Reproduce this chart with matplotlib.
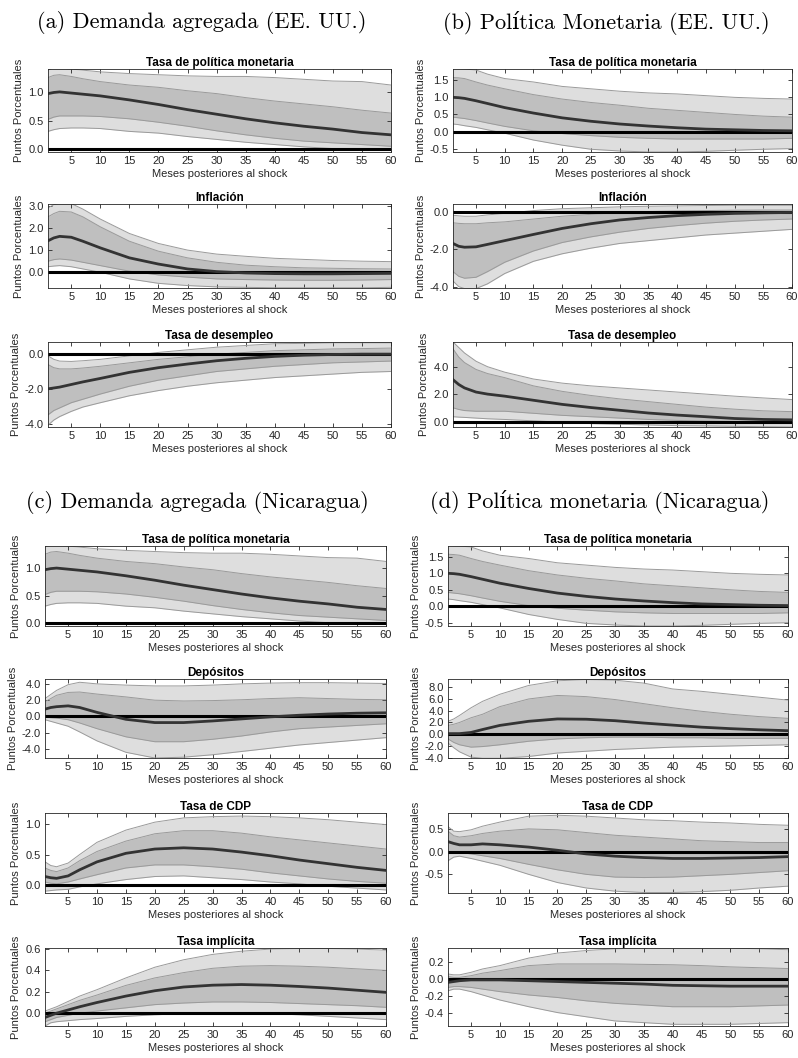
import numpy as np
import matplotlib
matplotlib.use("Agg")
import matplotlib.pyplot as plt

plt.rcParams['font.family'] = ['Liberation Sans', 'DejaVu Sans']
plt.rcParams['axes.unicode_minus'] = False

meses = [1, 2, 3, 5, 7, 10, 15, 20, 25, 30, 35, 40, 45, 50, 55, 60]

# cada respuesta: mediana, banda interna (baja, alta), banda externa (baja, alta)
tpm_da_med = [0.97, 0.99, 1.0, 0.98, 0.96, 0.93, 0.86, 0.78, 0.69, 0.61, 0.53, 0.46, 0.40, 0.35, 0.29, 0.25]
tpm_da_in_lo = [0.52, 0.56, 0.58, 0.58, 0.58, 0.57, 0.53, 0.47, 0.40, 0.32, 0.25, 0.19, 0.14, 0.11, 0.08, 0.05]
tpm_da_in_hi = [1.25, 1.29, 1.30, 1.27, 1.23, 1.18, 1.12, 1.08, 1.02, 0.97, 0.90, 0.84, 0.79, 0.74, 0.68, 0.63]
tpm_da_out_lo = [0.31, 0.34, 0.36, 0.37, 0.37, 0.36, 0.31, 0.28, 0.22, 0.17, 0.12, 0.08, 0.04, 0.01, 0.0, -0.02]
tpm_da_out_hi = [1.38, 1.42, 1.42, 1.40, 1.38, 1.35, 1.32, 1.30, 1.28, 1.27, 1.27, 1.25, 1.22, 1.19, 1.18, 1.12]

tpm_pm_med = [1.0, 0.99, 0.97, 0.90, 0.82, 0.70, 0.54, 0.40, 0.30, 0.22, 0.16, 0.11, 0.07, 0.05, 0.03, 0.02]
tpm_pm_in_lo = [0.42, 0.40, 0.38, 0.32, 0.25, 0.15, 0.02, -0.06, -0.12, -0.17, -0.20, -0.22, -0.22, -0.22, -0.22, -0.20]
tpm_pm_in_hi = [1.58, 1.57, 1.55, 1.45, 1.36, 1.25, 1.08, 0.95, 0.85, 0.77, 0.68, 0.62, 0.56, 0.50, 0.45, 0.42]
tpm_pm_out_lo = [0.22, 0.20, 0.17, 0.12, 0.05, -0.05, -0.25, -0.40, -0.52, -0.57, -0.60, -0.60, -0.58, -0.55, -0.52, -0.50]
tpm_pm_out_hi = [1.85, 1.84, 1.83, 1.80, 1.68, 1.55, 1.45, 1.32, 1.25, 1.18, 1.13, 1.10, 1.05, 1.00, 0.97, 0.95]

inf_da_med = [1.42, 1.55, 1.62, 1.58, 1.40, 1.10, 0.65, 0.37, 0.15, 0.03, -0.03, -0.06, -0.07, -0.07, -0.06, -0.05]
inf_da_in_lo = [0.50, 0.57, 0.60, 0.55, 0.45, 0.30, 0.05, -0.12, -0.22, -0.30, -0.33, -0.35, -0.36, -0.36, -0.35, -0.33]
inf_da_in_hi = [2.50, 2.65, 2.75, 2.72, 2.50, 2.05, 1.40, 0.95, 0.65, 0.45, 0.32, 0.25, 0.20, 0.18, 0.16, 0.15]
inf_da_out_lo = [0.25, 0.28, 0.30, 0.25, 0.15, 0.0, -0.30, -0.50, -0.60, -0.66, -0.68, -0.70, -0.70, -0.70, -0.70, -0.68]
inf_da_out_hi = [2.90, 3.05, 3.10, 3.10, 2.85, 2.40, 1.75, 1.30, 1.00, 0.82, 0.72, 0.63, 0.58, 0.53, 0.50, 0.48]

des_da_med = [-2.0, -1.95, -1.9, -1.75, -1.6, -1.4, -1.05, -0.78, -0.57, -0.38, -0.24, -0.13, -0.06, -0.02, 0.0, 0.0]
des_da_in_lo = [-3.5, -3.25, -3.1, -2.8, -2.6, -2.3, -1.85, -1.5, -1.25, -1.0, -0.85, -0.7, -0.6, -0.5, -0.45, -0.4]
des_da_in_hi = [-0.6, -0.78, -0.85, -0.85, -0.8, -0.7, -0.5, -0.3, -0.15, 0.0, 0.1, 0.2, 0.25, 0.3, 0.32, 0.35]
des_da_out_lo = [-4.1, -3.8, -3.6, -3.3, -3.05, -2.8, -2.4, -2.1, -1.85, -1.65, -1.5, -1.35, -1.25, -1.15, -1.05, -1.0]
des_da_out_hi = [-0.1, -0.3, -0.4, -0.42, -0.38, -0.3, -0.1, 0.1, 0.25, 0.4, 0.5, 0.6, 0.62, 0.65, 0.65, 0.65]

inf_pm_med = [-1.7, -1.85, -1.9, -1.88, -1.75, -1.55, -1.22, -0.9, -0.65, -0.45, -0.32, -0.22, -0.15, -0.1, -0.07, -0.05]
inf_pm_in_lo = [-3.2, -3.45, -3.55, -3.5, -3.2, -2.7, -2.1, -1.65, -1.35, -1.1, -0.9, -0.75, -0.62, -0.52, -0.45, -0.4]
inf_pm_in_hi = [-0.6, -0.63, -0.65, -0.65, -0.6, -0.55, -0.4, -0.25, -0.15, -0.07, 0.0, 0.03, 0.05, 0.07, 0.08, 0.08]
inf_pm_out_lo = [-3.7, -4.0, -4.1, -4.1, -3.85, -3.3, -2.65, -2.25, -1.95, -1.7, -1.55, -1.4, -1.25, -1.15, -1.05, -0.95]
inf_pm_out_hi = [-0.2, -0.23, -0.25, -0.25, -0.18, -0.1, 0.05, 0.15, 0.2, 0.25, 0.28, 0.3, 0.32, 0.33, 0.33, 0.33]

des_pm_med = [3.05, 2.7, 2.45, 2.15, 2.0, 1.85, 1.55, 1.25, 1.02, 0.82, 0.62, 0.47, 0.35, 0.22, 0.15, 0.12]
des_pm_in_lo = [1.0, 0.88, 0.8, 0.75, 0.75, 0.75, 0.6, 0.45, 0.35, 0.25, 0.15, 0.08, 0.03, 0.0, -0.05, -0.1]
des_pm_in_hi = [5.3, 4.7, 4.3, 3.8, 3.5, 3.2, 2.6, 2.2, 1.9, 1.65, 1.45, 1.25, 1.05, 0.9, 0.78, 0.72]
des_pm_out_lo = [0.35, 0.32, 0.3, 0.25, 0.2, 0.15, 0.05, -0.05, -0.15, -0.2, -0.25, -0.3, -0.32, -0.35, -0.38, -0.4]
des_pm_out_hi = [5.8, 5.4, 5.0, 4.4, 4.0, 3.6, 3.1, 2.8, 2.6, 2.45, 2.3, 2.15, 2.0, 1.85, 1.72, 1.6]

dep_da_med = [0.9, 1.1, 1.2, 1.3, 1.1, 0.5, -0.35, -0.75, -0.75, -0.55, -0.3, -0.05, 0.15, 0.3, 0.4, 0.45]
dep_da_in_lo = [-0.1, -0.15, -0.2, -0.4, -0.8, -1.5, -2.5, -3.1, -3.1, -2.8, -2.4, -1.9, -1.5, -1.3, -1.1, -0.9]
dep_da_in_hi = [1.8, 2.2, 2.6, 2.95, 3.0, 2.75, 2.4, 2.0, 1.9, 1.95, 2.05, 2.2, 2.3, 2.2, 2.1, 2.05]
dep_da_out_lo = [-0.4, -0.6, -0.8, -1.2, -1.9, -3.0, -4.4, -5.1, -5.0, -4.7, -4.3, -3.9, -3.5, -3.2, -2.9, -2.6]
dep_da_out_hi = [2.2, 2.7, 3.2, 3.9, 4.2, 4.0, 3.85, 3.75, 3.75, 3.85, 4.0, 4.1, 4.15, 4.15, 4.1, 4.05]

dep_pm_med = [0.1, 0.1, 0.1, 0.3, 0.8, 1.5, 2.2, 2.6, 2.55, 2.3, 1.9, 1.55, 1.2, 0.95, 0.75, 0.6]
dep_pm_in_lo = [-0.8, -1.4, -1.8, -2.2, -2.1, -1.8, -1.2, -0.8, -0.6, -0.5, -0.5, -0.6, -0.6, -0.7, -0.7, -0.7]
dep_pm_in_hi = [1.5, 1.7, 2.0, 2.8, 3.4, 4.7, 6.0, 6.6, 6.4, 5.9, 5.2, 4.5, 3.9, 3.4, 3.0, 2.7]
dep_pm_out_lo = [-1.5, -2.3, -3.0, -3.9, -4.1, -4.1, -3.8, -3.2, -2.9, -2.6, -2.4, -2.2, -2.1, -2.0, -1.9, -1.8]
dep_pm_out_hi = [2.2, 2.6, 3.2, 4.5, 5.6, 6.8, 8.3, 9.1, 9.3, 9.2, 8.7, 7.7, 7.3, 6.8, 6.3, 5.8]

cdp_da_med = [0.14, 0.12, 0.11, 0.15, 0.25, 0.38, 0.52, 0.59, 0.61, 0.59, 0.54, 0.48, 0.41, 0.35, 0.29, 0.24]
cdp_da_in_lo = [0.05, 0.03, 0.02, 0.05, 0.10, 0.17, 0.28, 0.33, 0.33, 0.30, 0.26, 0.20, 0.15, 0.10, 0.06, 0.03]
cdp_da_in_hi = [0.28, 0.24, 0.22, 0.28, 0.40, 0.55, 0.72, 0.84, 0.89, 0.89, 0.85, 0.79, 0.74, 0.69, 0.64, 0.59]
cdp_da_out_lo = [-0.10, -0.09, -0.08, -0.07, -0.03, 0.02, 0.09, 0.14, 0.15, 0.12, 0.09, 0.05, 0.02, -0.02, -0.05, -0.08]
cdp_da_out_hi = [0.38, 0.32, 0.30, 0.36, 0.50, 0.70, 0.90, 1.03, 1.10, 1.12, 1.13, 1.12, 1.10, 1.07, 1.03, 0.99]

cdp_pm_med = [0.22, 0.18, 0.15, 0.15, 0.17, 0.15, 0.10, 0.03, -0.05, -0.10, -0.13, -0.15, -0.15, -0.14, -0.13, -0.11]
cdp_pm_in_lo = [0.0, -0.01, -0.02, -0.05, -0.09, -0.15, -0.28, -0.40, -0.50, -0.56, -0.57, -0.56, -0.53, -0.50, -0.46, -0.42]
cdp_pm_in_hi = [0.45, 0.35, 0.32, 0.35, 0.40, 0.45, 0.50, 0.48, 0.42, 0.36, 0.32, 0.28, 0.24, 0.22, 0.20, 0.20]
cdp_pm_out_lo = [-0.20, -0.12, -0.10, -0.15, -0.21, -0.30, -0.50, -0.68, -0.80, -0.87, -0.90, -0.90, -0.88, -0.85, -0.80, -0.76]
cdp_pm_out_hi = [0.55, 0.45, 0.44, 0.48, 0.56, 0.65, 0.78, 0.80, 0.78, 0.74, 0.70, 0.68, 0.65, 0.63, 0.60, 0.58]

imp_da_med = [-0.04, -0.02, 0.0, 0.03, 0.06, 0.10, 0.16, 0.21, 0.245, 0.262, 0.268, 0.262, 0.25, 0.235, 0.215, 0.195]
imp_da_in_lo = [-0.08, -0.06, -0.04, -0.02, 0.0, 0.02, 0.05, 0.08, 0.095, 0.105, 0.105, 0.10, 0.09, 0.08, 0.07, 0.055]
imp_da_in_hi = [0.0, 0.02, 0.04, 0.08, 0.12, 0.17, 0.26, 0.33, 0.38, 0.42, 0.44, 0.445, 0.44, 0.43, 0.415, 0.40]
imp_da_out_lo = [-0.12, -0.09, -0.08, -0.07, -0.06, -0.05, -0.03, -0.015, -0.005, 0.0, 0.0, -0.005, -0.015, -0.03, -0.045, -0.06]
imp_da_out_hi = [0.02, 0.04, 0.06, 0.11, 0.16, 0.22, 0.33, 0.43, 0.50, 0.55, 0.58, 0.60, 0.605, 0.605, 0.60, 0.59]

imp_pm_med = [-0.04, -0.03, -0.02, -0.01, -0.01, -0.01, -0.02, -0.03, -0.04, -0.05, -0.06, -0.075, -0.08, -0.085, -0.085, -0.085]
imp_pm_in_lo = [-0.10, -0.09, -0.09, -0.10, -0.12, -0.15, -0.19, -0.22, -0.26, -0.29, -0.31, -0.33, -0.33, -0.33, -0.32, -0.31]
imp_pm_in_hi = [0.03, 0.02, 0.02, 0.04, 0.07, 0.10, 0.16, 0.18, 0.18, 0.18, 0.175, 0.17, 0.16, 0.145, 0.135, 0.125]
imp_pm_out_lo = [-0.14, -0.12, -0.12, -0.15, -0.19, -0.25, -0.33, -0.40, -0.45, -0.50, -0.52, -0.54, -0.54, -0.54, -0.53, -0.52]
imp_pm_out_hi = [0.06, 0.05, 0.05, 0.08, 0.12, 0.16, 0.25, 0.31, 0.34, 0.36, 0.37, 0.37, 0.37, 0.37, 0.36, 0.35]

W, H = 798, 1058
fig = plt.figure(figsize=(W / 100, H / 100), dpi=100)


def panel(box, title, med, in_lo, in_hi, out_lo, out_hi, ylim, yticks):
    left, top, right, bottom = box
    ax = fig.add_axes([left / W, 1 - bottom / H, (right - left) / W, (bottom - top) / H])
    ax.fill_between(meses, out_lo, out_hi, color='#dedede', lw=0)
    ax.fill_between(meses, in_lo, in_hi, color='#bfbfbf', lw=0)
    for b in (out_lo, out_hi, in_lo, in_hi):
        ax.plot(meses, b, color='#9a9a9a', lw=0.7)
    ax.axhline(0, color='black', lw=2.2)
    ax.plot(meses, med, color='#333333', lw=2.0)
    ax.set_xlim(1, 60)
    ax.set_ylim(*ylim)
    ax.set_xticks(range(5, 61, 5))
    ax.set_yticks(yticks)
    ax.set_yticklabels(['%.1f' % v for v in yticks])
    ax.tick_params(direction='in', top=True, right=True, length=3, width=0.6,
                   labelsize=8, colors='#262626', pad=3)
    for s in ax.spines.values():
        s.set_linewidth(0.6)
        s.set_color('#262626')
    ax.set_title(title, fontsize=8.5, fontweight='bold', pad=2.5)
    ax.set_xlabel('Meses posteriores al shock', fontsize=8, color='#262626', labelpad=2)
    ax.set_ylabel('Puntos Porcentuales', fontsize=8, color='#262626', labelpad=3)
    return ax


# columnas (izquierda, derecha) y filas (arriba, abajo) en pixeles
col_ab = [(48, 391), (453, 792)]
col_cd = [(45, 386), (448, 788)]
rows_ab = [(69, 152), (204, 288), (342, 427)]
rows_cd = [(546, 626), (679, 758), (813, 893), (948, 1026)]

tit_tpm = 'Tasa de política monetaria'

(l, r), (t, b) = col_ab[0], rows_ab[0]
panel((l, t, r, b), tit_tpm, tpm_da_med, tpm_da_in_lo, tpm_da_in_hi, tpm_da_out_lo, tpm_da_out_hi,
      (-0.05, 1.40), [0.0, 0.5, 1.0])
(t, b) = rows_ab[1]
panel((l, t, r, b), 'Inflación', inf_da_med, inf_da_in_lo, inf_da_in_hi, inf_da_out_lo, inf_da_out_hi,
      (-0.71, 3.08), [0.0, 1.0, 2.0, 3.0])
(t, b) = rows_ab[2]
panel((l, t, r, b), 'Tasa de desempleo', des_da_med, des_da_in_lo, des_da_in_hi, des_da_out_lo, des_da_out_hi,
      (-4.2, 0.7), [-4.0, -2.0, 0.0])

(l, r), (t, b) = col_ab[1], rows_ab[0]
panel((l, t, r, b), tit_tpm, tpm_pm_med, tpm_pm_in_lo, tpm_pm_in_hi, tpm_pm_out_lo, tpm_pm_out_hi,
      (-0.6, 1.83), [-0.5, 0.0, 0.5, 1.0, 1.5])
(t, b) = rows_ab[1]
panel((l, t, r, b), 'Inflación', inf_pm_med, inf_pm_in_lo, inf_pm_in_hi, inf_pm_out_lo, inf_pm_out_hi,
      (-4.07, 0.4), [-4.0, -2.0, 0.0])
(t, b) = rows_ab[2]
panel((l, t, r, b), 'Tasa de desempleo', des_pm_med, des_pm_in_lo, des_pm_in_hi, des_pm_out_lo, des_pm_out_hi,
      (-0.4, 5.8), [0.0, 2.0, 4.0])

(l, r), (t, b) = col_cd[0], rows_cd[0]
panel((l, t, r, b), tit_tpm, tpm_da_med, tpm_da_in_lo, tpm_da_in_hi, tpm_da_out_lo, tpm_da_out_hi,
      (-0.05, 1.40), [0.0, 0.5, 1.0])
(t, b) = rows_cd[1]
panel((l, t, r, b), 'Depósitos', dep_da_med, dep_da_in_lo, dep_da_in_hi, dep_da_out_lo, dep_da_out_hi,
      (-5.1, 4.6), [-4.0, -2.0, 0.0, 2.0, 4.0])
(t, b) = rows_cd[2]
panel((l, t, r, b), 'Tasa de CDP', cdp_da_med, cdp_da_in_lo, cdp_da_in_hi, cdp_da_out_lo, cdp_da_out_hi,
      (-0.13, 1.18), [0.0, 0.5, 1.0])
(t, b) = rows_cd[3]
panel((l, t, r, b), 'Tasa implícita', imp_da_med, imp_da_in_lo, imp_da_in_hi, imp_da_out_lo, imp_da_out_hi,
      (-0.12, 0.61), [0.0, 0.2, 0.4, 0.6])

(l, r), (t, b) = col_cd[1], rows_cd[0]
panel((l, t, r, b), tit_tpm, tpm_pm_med, tpm_pm_in_lo, tpm_pm_in_hi, tpm_pm_out_lo, tpm_pm_out_hi,
      (-0.6, 1.83), [-0.5, 0.0, 0.5, 1.0, 1.5])
(t, b) = rows_cd[1]
panel((l, t, r, b), 'Depósitos', dep_pm_med, dep_pm_in_lo, dep_pm_in_hi, dep_pm_out_lo, dep_pm_out_hi,
      (-4.05, 9.4), [-4.0, -2.0, 0.0, 2.0, 4.0, 6.0, 8.0])
(t, b) = rows_cd[2]
panel((l, t, r, b), 'Tasa de CDP', cdp_pm_med, cdp_pm_in_lo, cdp_pm_in_hi, cdp_pm_out_lo, cdp_pm_out_hi,
      (-0.91, 0.85), [-0.5, 0.0, 0.5])
(t, b) = rows_cd[3]
panel((l, t, r, b), 'Tasa implícita', imp_pm_med, imp_pm_in_lo, imp_pm_in_hi, imp_pm_out_lo, imp_pm_out_hi,
      (-0.56, 0.37), [-0.4, -0.2, 0.0, 0.2])

# encabezados de cada bloque
serif = ['cmr10', 'DejaVu Serif']
heads = [('(a) Demanda agregada (EE. UU.)', 202, 23),
         ('(b) Política Monetaria (EE. UU.)', 606, 23),
         ('(c) Demanda agregada (Nicaragua)', 197, 502),
         ('(d) Política monetaria (Nicaragua)', 600, 502)]
for txt, x, y in heads:
    fig.text(x / W, 1 - y / H, txt, ha='center', va='center', fontsize=16, family=serif)

fig.savefig('out.png', dpi=100)
